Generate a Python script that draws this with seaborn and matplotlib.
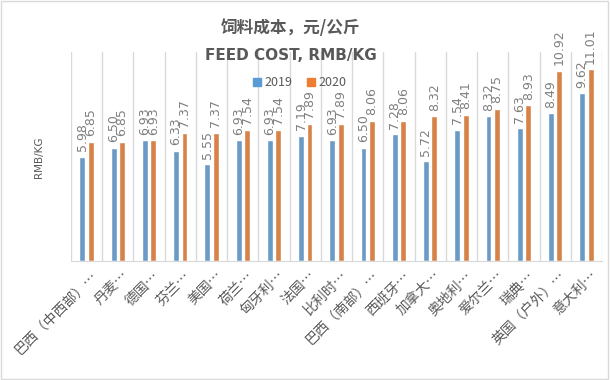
import pandas as pd
import matplotlib.pyplot as plt
import matplotlib.transforms as mtransforms
import seaborn as sns

countries = ['巴西（中西部）…', '丹麦…', '德国…', '芬兰…', '美国…', '荷兰…', '匈牙利…',
             '法国…', '比利时…', '巴西（南部）…', '西班牙…', '加拿大…', '奥地利…',
             '爱尔兰…', '瑞典…', '英国（户外）…', '意大利…']
cost_2019 = [5.98, 6.50, 6.93, 6.33, 5.55, 6.93, 6.93, 7.19, 6.93, 6.50, 7.28, 5.72,
             7.54, 8.32, 7.63, 8.49, 9.62]
cost_2020 = [6.85, 6.85, 6.93, 7.37, 7.37, 7.54, 7.54, 7.89, 7.89, 8.06, 8.06, 8.32,
             8.41, 8.75, 8.93, 10.92, 11.01]
years = ['2019', '2020']

df = pd.DataFrame({
    'country': countries * 2,
    'year': [years[0]] * len(countries) + [years[1]] * len(countries),
    'cost': cost_2019 + cost_2020,
})

sns.set_style('white')
plt.rcParams['font.family'] = ['Noto Sans CJK SC', 'DejaVu Sans']

grey = '#595959'
fig = plt.figure(figsize=(6.1, 3.8), dpi=100)
ax = fig.add_axes([71 / 610, 1 - 261 / 380, 531 / 610, 209 / 380])

sns.barplot(data=df, x='country', y='cost', hue='year', order=countries,
            palette=['#5B9BD5', '#ED7D31'], width=0.54, gap=0.3, ax=ax,
            legend=False)

for cont in ax.containers:
    ax.bar_label(cont, fmt='%.2f', rotation=90, padding=4, fontsize=9,
                 color='#7f7f7f', family='DejaVu Sans')

ax.set_ylim(0, 12)
ax.set_xlim(-0.5, len(countries) - 0.5)
ax.set_yticks([])
ax.set_xticks([i - 0.5 for i in range(len(countries) + 1)], minor=True)
ax.grid(axis='x', which='minor', color='#d9d9d9', linewidth=1)
ax.tick_params(axis='x', which='both', length=0, pad=2)
for s in ['top', 'right', 'left']:
    ax.spines[s].set_visible(False)
ax.spines['bottom'].set_color('#d9d9d9')
ax.set_xlabel('')
ax.set_ylabel('')

offset = mtransforms.ScaledTranslation(6 / 72, -7 / 72, fig.dpi_scale_trans)
for lab in ax.get_xticklabels():
    lab.set_rotation(45)
    lab.set_ha('right')
    lab.set_va('center')
    lab.set_rotation_mode('anchor')
    lab.set_fontsize(10)
    lab.set_color(grey)
    lab.set_transform(lab.get_transform() + offset)

# legend
handles = [plt.Rectangle((0, 0), 1, 1, color=c) for c in ['#5B9BD5', '#ED7D31']]
fig.legend(handles, years, loc='center', bbox_to_anchor=(300 / 610, 1 - 83 / 380),
           ncol=2, frameon=False, fontsize=9, handlelength=0.6, handleheight=0.6,
           handletextpad=0.3, columnspacing=1.2, labelcolor=grey)

fig.text(291 / 610, 1 - 28 / 380, '饲料成本，元/公斤', ha='center', va='center',
         fontsize=12, fontweight='bold', color=grey)
fig.text(291 / 610, 1 - 55 / 380, 'FEED COST, RMB/KG', ha='center', va='center',
         fontsize=11, fontweight='bold', color=grey, family='DejaVu Sans')
fig.text(39 / 610, 1 - 157 / 380, 'RMB/KG', rotation=90, ha='center', va='center',
         fontsize=7.5, color=grey, family='DejaVu Sans')

fig.patches.append(plt.Rectangle((0.002, 0.003), 0.995, 0.994, transform=fig.transFigure,
                                 fill=False, edgecolor='#d9d9d9', linewidth=1))

fig.savefig('out.png', dpi=100)
